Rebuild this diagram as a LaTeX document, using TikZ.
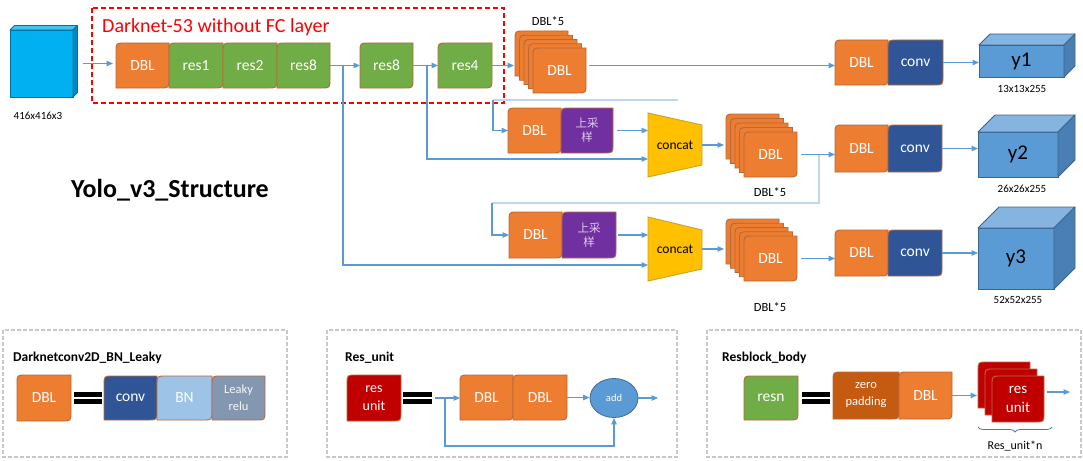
\documentclass[tikz,border=0pt]{standalone}
\usepackage{fontspec}
\setmainfont{Carlito}
\newfontfamily\cjkf{Noto Sans CJK SC}
\usetikzlibrary{arrows.meta,backgrounds,decorations.pathreplacing,shapes.geometric}
\definecolor{cOrange}{HTML}{ED7D31}
\definecolor{cGreen}{HTML}{70AD47}
\definecolor{cConv}{HTML}{2F5597}
\definecolor{cPurple}{HTML}{7030A0}
\definecolor{cGold}{HTML}{FFC000}
\definecolor{cGoldB}{HTML}{C9A227}
\definecolor{cBord}{HTML}{B8693A}
\definecolor{cArrow}{HTML}{5B9BD5}
\definecolor{cLight}{HTML}{BDD7EE}
\definecolor{cCube}{HTML}{5B9BD5}
\definecolor{cCubeSide}{HTML}{4A7FB5}
\definecolor{cIn}{HTML}{00B0F0}
\definecolor{cInSide}{HTML}{0088C0}
\definecolor{cRed}{HTML}{C00000}
\definecolor{cZero}{HTML}{C55A11}
\definecolor{cBN}{HTML}{9DC3E6}
\definecolor{cLeaky}{HTML}{8497B0}
\definecolor{cGray}{HTML}{C8C8C8}
\definecolor{cUp}{HTML}{DCCBEB}
\newlength\rdR \setlength\rdR{9pt}
\tikzset{
  arr/.style={draw=cArrow,line width=1.1pt,-{Triangle[length=6.5pt,width=5.5pt]}},
  lightl/.style={draw=cLight,line width=1.8pt},
  boxtext/.style={inner sep=0pt,outer sep=0pt,text=white,font=\fontsize{15.5}{17}\selectfont,align=center},
  lbl/.style={inner sep=0pt,text=black,font=\fontsize{11}{13}\selectfont},
  stacklbl/.style={inner sep=0pt,text=black,font=\fontsize{12.5}{14}\selectfont},
  ttl/.style={inner sep=0pt,anchor=west,text=black,font=\fontsize{13.5}{15}\selectfont\bfseries},
  graybox/.style={draw=cGray,line width=1.5pt,dash pattern=on 4pt off 2pt},
}
\newcommand\rdbox[8][]{%
  \node[boxtext,minimum width={((#5)-(#3))*1pt},minimum height={((#6)-(#4))*1pt},#1] (#2) at ({((#3)+(#5))/2},{((#4)+(#6))/2}) {#8};
  \begin{pgfonlayer}{background}
    \path[fill=#7,draw=cBord,line width=0.9pt]
      ([yshift=-\rdR]#2.north west) .. controls (#2.north west) .. ([xshift=\rdR]#2.north west)
      -- (#2.north east) -- ([yshift=\rdR]#2.south east)
      .. controls (#2.south east) .. ([xshift=-\rdR]#2.south east)
      -- (#2.south west) -- cycle;
  \end{pgfonlayer}}
\newcommand\mycube[9]{%
  \node[inner sep=0pt,outer sep=0pt,text=black,font=\fontsize{21}{23}\selectfont,minimum width={((#4)-(#2))*1pt},minimum height={((#5)-(#3))*1pt}] (#1) at ({((#2)+(#4))/2},{((#3)+(#5))/2}) {#9};
  \begin{pgfonlayer}{background}
    \path[fill=#7,draw=#7!65!black,line width=0.8pt] (#1.north west) rectangle (#1.south east);
    \path[fill=#7!75!white,draw=#7!65!black,line width=0.8pt,line join=round] (#1.north west) -- ++(#6,-#6) -- ([shift={(#6,-#6)}]#1.north east) -- (#1.north east) -- cycle;
    \path[fill=#8,draw=#7!65!black,line width=0.8pt,line join=round] (#1.north east) -- ++(#6,-#6) -- ([shift={(#6,-#6)}]#1.south east) -- (#1.south east) -- cycle;
  \end{pgfonlayer}}
\begin{document}
\begin{tikzpicture}[x=1pt,y=-1pt]
\begin{pgfonlayer}{background}
\fill[white] (0,0) rectangle (1083,460);
\end{pgfonlayer}
\useasboundingbox (0,0) rectangle (1083,460);

% ---------- input ----------
\mycube{in}{10}{30}{73}{97}{4.5}{cIn}{cInSide}{}
\node[lbl] (inlab) at (38,116) {416x416x3};

% ---------- darknet ----------
\draw[red,line width=2pt,dash pattern=on 5pt off 3pt] (92,8) rectangle (504,103);
\node[inner sep=0pt,anchor=west,text=red,font=\fontsize{20}{22}\selectfont] (dkt) at (102,27) {Darknet-53 without FC layer};
\rdbox{dbl0}{116}{43}{169}{88}{cOrange}{DBL}
\rdbox{res1}{169}{43}{223}{88}{cGreen}{res1}
\rdbox{res2}{223}{43}{277}{88}{cGreen}{res2}
\rdbox{res8a}{277}{43}{330}{88}{cGreen}{res8}
\rdbox{res8b}{360}{43}{413}{88}{cGreen}{res8}
\rdbox{res4}{438}{43}{492}{88}{cGreen}{res4}

\node[inner sep=0pt,text=black,font=\fontsize{26}{28}\selectfont\bfseries] (title) at (170,190) {Yolo\_v3\_Structure};

% ---------- stack 1 ----------
\foreach \i in {0,...,3} {\rdbox{s1\i}{515+4.5*\i}{31+4.25*\i}{568+4.5*\i}{76+4.25*\i}{cOrange}{}}
\rdbox{s14}{533}{48}{586}{93}{cOrange}{DBL}
\node[stacklbl] (lab1) at (548,21) {DBL*5};

% ---------- y1 row ----------
\rdbox{d1}{835}{40}{888}{85}{cOrange}{DBL}
\rdbox{cv1}{888}{40}{943}{85}{cConv}{conv}
\mycube{y1}{979}{45}{1064}{77}{11}{cCube}{cCubeSide}{y1}
\node[lbl] (l1) at (1022,89) {13x13x255};

% ---------- upsample 1 ----------
\rdbox{u1d}{508}{108}{561}{153}{cOrange}{DBL}
\rdbox[text=cUp,font=\cjkf\fontsize{11.5}{14}\selectfont]{u1p}{561}{108}{613}{153}{cPurple}{上采\\样}
\node[inner sep=0pt,outer sep=0pt,minimum width=54pt,minimum height=64pt,text=black,font=\fontsize{13.5}{15}\selectfont] (c1) at (675,145) {concat};
\begin{pgfonlayer}{background}
\path[fill=cGold,draw=cGoldB,line width=0.9pt] (c1.north west) -- ([yshift=-12pt]c1.north east) -- ([yshift=12pt]c1.south east) -- (c1.south west) -- cycle;
\end{pgfonlayer}
\foreach \i in {0,...,3} {\rdbox{s2\i}{726+4.5*\i}{114+4.5*\i}{779+4.5*\i}{159+4.5*\i}{cOrange}{}}
\rdbox{s24}{744}{132}{797}{177}{cOrange}{DBL}
\node[stacklbl] (lab2) at (770,192) {DBL*5};

% ---------- y2 row ----------
\rdbox{d2}{835}{125}{888}{172}{cOrange}{DBL}
\rdbox{cv2}{888}{125}{942}{172}{cConv}{conv}
\mycube{y2}{978}{132}{1058}{177}{17}{cCube}{cCubeSide}{y2}
\node[lbl] (l2) at (1022,189) {26x26x255};

% ---------- upsample 2 ----------
\rdbox{u2d}{509}{212}{562}{258}{cOrange}{DBL}
\rdbox[text=cUp,font=\cjkf\fontsize{11.5}{14}\selectfont]{u2p}{562}{212}{616}{258}{cPurple}{上采\\样}
\node[inner sep=0pt,outer sep=0pt,minimum width=54pt,minimum height=64pt,text=black,font=\fontsize{13.5}{15}\selectfont] (c2) at (675,249) {concat};
\begin{pgfonlayer}{background}
\path[fill=cGold,draw=cGoldB,line width=0.9pt] (c2.north west) -- ([yshift=-13pt]c2.north east) -- ([yshift=12pt]c2.south east) -- (c2.south west) -- cycle;
\end{pgfonlayer}
\foreach \i in {0,...,3} {\rdbox{s3\i}{726+4.5*\i}{219+4.25*\i}{779+4.5*\i}{264+4.25*\i}{cOrange}{}}
\rdbox{s34}{744}{236}{797}{281}{cOrange}{DBL}
\node[stacklbl] (lab3) at (770,307) {DBL*5};

% ---------- y3 row ----------
\rdbox{d3}{835}{230}{888}{276}{cOrange}{DBL}
\rdbox{cv3}{888}{230}{942}{276}{cConv}{conv}
\mycube{y3}{978}{228}{1054}{289}{21}{cCube}{cCubeSide}{y3}
\node[lbl] (l3) at (1018,300) {52x52x255};

% ---------- main connectors ----------
\draw[arr] ([xshift=10pt]in.east) -- ([xshift=-3pt]in.east -| dbl0.west);
\draw[arr] (res8a.east) -- (res8b.west);
\draw[arr] (res8b.east) -- (res4.west);
\draw[arr] (res4.east) -- ([xshift=-1pt]res4.east -| s10.west);
\draw[arr] ([xshift=3pt]s14.east |- res4.east) -- (res4.east -| d1.west);
\draw[arr] (cv1.east) -- (cv1.east -| y1.west);
\coordinate (j1) at (343,65.5);
\coordinate (j2) at (427,65.5);
\draw[arr] (j2) |- ([yshift=-14pt]c1.west);
\draw[arr] (j1) |- ([yshift=-16pt]c2.west);
\coordinate (t1) at (678,100);
\coordinate (k1) at (493,100);
\draw[lightl] (t1) -- (k1);
\draw[arr] (k1) |- (u1d.west);
\draw[arr] ([xshift=4pt]u1p.east) -- (u1p.east -| c1.west);
\draw[arr] (c1.east) -- ([xshift=-2pt]c1.east -| s20.west);
\draw[arr] ([xshift=4pt]s24.east) -- (s24.east -| d2.west);
\coordinate (j3) at (819,154.5);
\coordinate (k3) at (819,203);
\coordinate (k4) at (492,203);
\draw[lightl] (j3) -- (k3) -- (k4);
\draw[arr] (k4) |- (u2d.west);
\draw[arr] ([xshift=2pt]u2p.east) -- (u2p.east -| c2.west);
\draw[arr] (c2.east) -- ([xshift=-2pt]c2.east -| s30.west);
\draw[arr] ([xshift=4pt]s34.east) -- (s34.east -| d3.west);
\draw[arr] (cv2.east) -- (cv2.east -| y2.west);
\draw[arr] (cv3.east) -- (cv3.east -| y3.west);

% ---------- legend 1 ----------
\draw[graybox] (3,330) rectangle (287,457);
\node[ttl] (t1n) at (13,358) {Darknetconv2D\_BN\_Leaky};
\rdbox{b1d}{17}{375}{71}{421}{cOrange}{DBL}
\fill[black] (74,392) rectangle (102,397);
\fill[black] (74,398.5) rectangle (102,403.5);
\rdbox{b1c}{104}{376}{157}{420}{cConv}{conv}
\rdbox{b1b}{157}{376}{212}{420}{cBN}{BN}
\rdbox[font=\fontsize{12.5}{17}\selectfont,text=white!92!cLeaky]{b1l}{212}{376}{265}{420}{cLeaky}{Leaky\\relu}

% ---------- legend 2 ----------
\draw[graybox] (327,330) rectangle (677,457);
\node[ttl] (t2n) at (345,358) {Res\_unit};
\rdbox[font=\fontsize{14}{18}\selectfont]{b2r}{347}{375}{401}{421}{cRed}{res\\unit}
\fill[black] (403,392) rectangle (432,397);
\fill[black] (403,398.5) rectangle (432,403.5);
\rdbox{b2d1}{460}{375}{513}{420}{cOrange}{DBL}
\rdbox{b2d2}{513}{375}{567}{420}{cOrange}{DBL}
\node[ellipse,fill=cArrow,draw=cArrow!70!black,line width=0.8pt,minimum width=48pt,minimum height=39pt,inner sep=0pt,text=white,font=\fontsize{10.5}{12}\selectfont] (add) at (614,398) {add};
\coordinate (r0) at (435,398);
\coordinate (r1) at (445,398);
\coordinate (rout) at (658,398);
\draw[arr] (r0) -- (b2d1.west |- r0);
\draw[arr] (b2d2.east) -- (b2d2.east -| add.west);
\draw[arr] (add.east) -- (rout);
\draw[arr] (r1) -- ++(0,48) -| (add.south);

% ---------- legend 3 ----------
\draw[graybox] (707,330) rectangle (1081,457);
\node[ttl] (t3n) at (722,358) {Resblock\_body};
\rdbox{b3r}{744}{376}{798}{420}{cGreen}{resn}
\fill[black] (802,392) rectangle (830,397);
\fill[black] (802,398.5) rectangle (830,403.5);
\rdbox[font=\fontsize{12.5}{17}\selectfont]{b3z}{833}{372}{899}{419}{cZero}{zero\\padding}
\rdbox{b3d}{899}{372}{952}{419}{cOrange}{DBL}
\rdbox{rs0}{978}{362}{1030}{408}{cRed}{}
\rdbox{rs1}{985}{369}{1037}{415}{cRed}{}
\rdbox[font=\fontsize{15}{19}\selectfont]{rs2}{992}{376}{1044}{422}{cRed}{res\\unit}
\coordinate (bout) at (1070,392);
\draw[arr] (b3d.east) -- ([xshift=-1pt]b3d.east -| rs0.west);
\draw[arr] ([xshift=3pt]rs2.east |- bout) -- (bout);
\draw[cArrow!80!black,line width=0.8pt,decorate,decoration={brace,amplitude=5pt,mirror}] (978,427) -- (1052,427);
\node[inner sep=0pt,text=black,font=\fontsize{12}{14}\selectfont] (rn) at (1015,446) {Res\_unit*n};
\end{tikzpicture}
\end{document}
